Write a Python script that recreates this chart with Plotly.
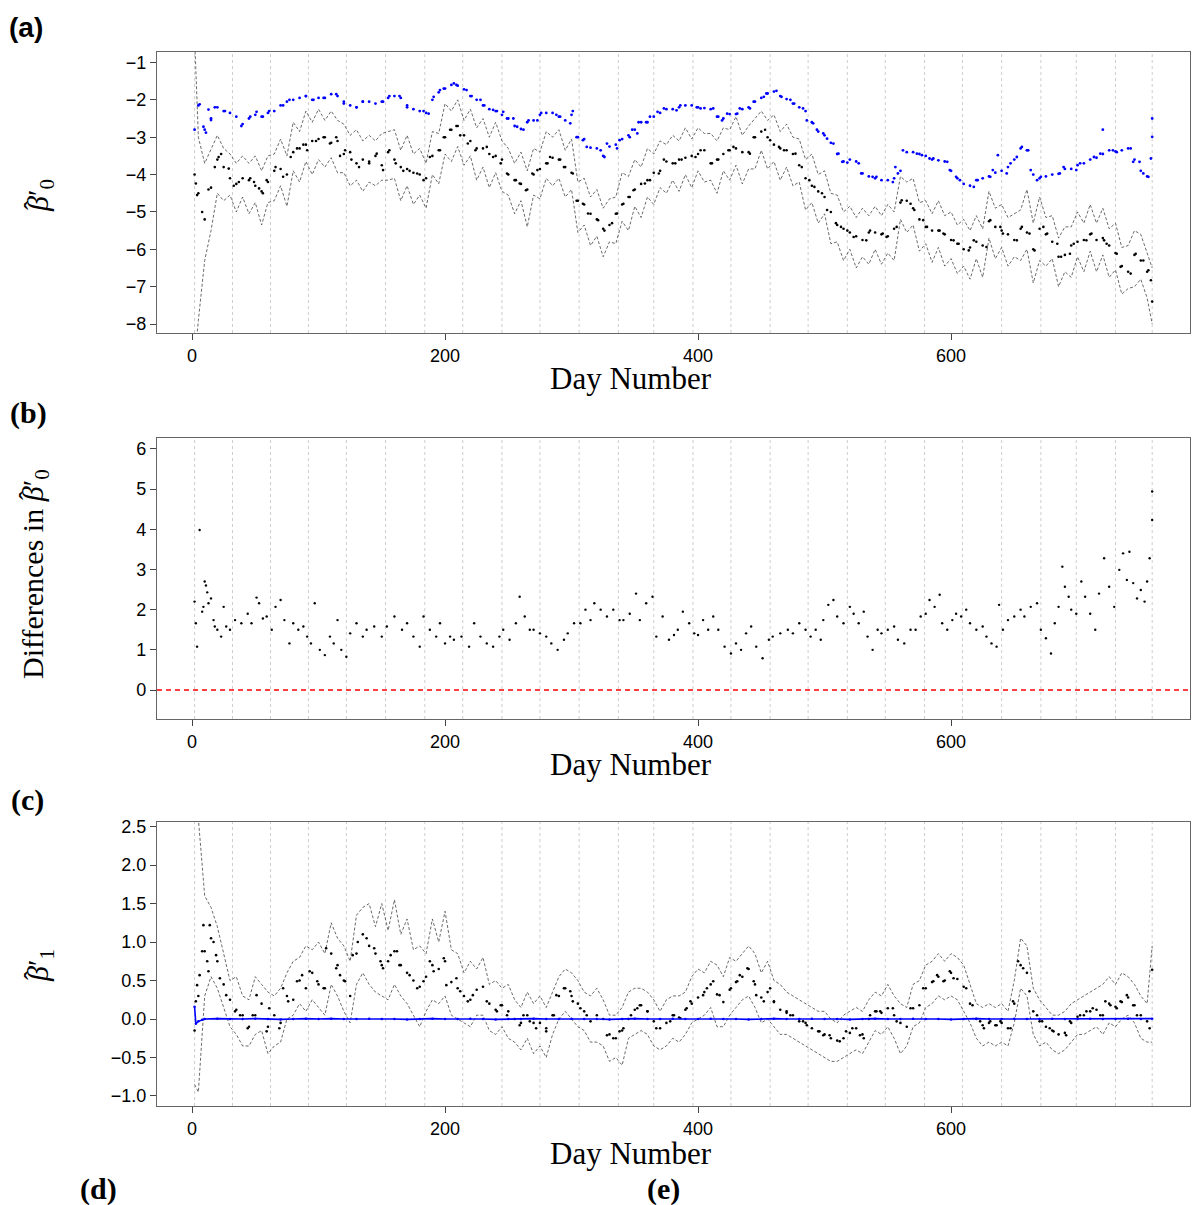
import plotly.graph_objects as go

W, H = 1192, 1205

# ---------------- data ----------------
DAYS = [2] + list(range(5, 760, 5)) + [759]

A_BLUE = [-2.8, -2.15, -2.8, -2.5, -2.2, -2.3, -2.35, -2.45, -2.65, -2.5, -2.4, -2.45, -2.35, -2.3, -2.15, -2.05,
          -2.0, -1.95, -1.9, -2.0, -1.95, -1.95, -1.85, -1.9, -2.05, -2.15, -2.2, -2.05, -2.05, -2.1, -2.05, -1.95,
          -1.9, -1.95, -2.15, -2.25, -2.3, -2.35, -2.0, -1.8, -1.7, -1.6, -1.62, -1.72, -1.9, -2.0, -2.15, -2.25,
          -2.3, -2.4, -2.5, -2.7, -2.78, -2.6, -2.55, -2.4, -2.35, -2.35, -2.45, -2.55, -2.4, -3.0, -3.05, -3.28,
          -3.3, -3.5, -3.25, -3.2, -3.05, -2.95, -2.8, -2.6, -2.6, -2.45, -2.35, -2.25, -2.25, -2.2, -2.15, -2.15,
          -2.2, -2.22, -2.25, -2.45, -2.5, -2.38, -2.38, -2.25, -2.2, -2.05, -1.95, -1.83, -1.78, -1.9, -1.98, -2.1,
          -2.2, -2.3, -2.6, -2.85, -2.95, -3.15, -3.45, -3.65, -3.6, -3.65, -3.97, -4.05, -4.1, -4.15, -4.15, -4.1,
          -3.9, -3.4, -3.4, -3.45, -3.5, -3.6, -3.62, -3.65, -3.9, -4.1, -4.25, -4.3, -4.15, -4.1, -4.05, -3.95,
          -3.9, -3.8, -3.6, -3.3, -3.35, -4.0, -4.1, -4.05, -4.0, -3.98, -3.85, -3.85, -3.75, -3.7, -3.6, -3.55,
          -3.45, -3.35, -3.38, -3.35, -3.3, -3.6, -3.9, -4.05, -2.5]

A_BLUE_EXTRA_DAYS = [6, 9, 11, 13, 15, 18, 26, 39, 46, 51, 56, 61, 72, 77, 90, 96, 104, 114, 120, 130, 135, 151,
                     156, 164, 170, 183, 187, 191, 196, 199, 207, 209, 217, 221, 228, 231, 241, 238, 246, 249, 254,
                     257, 262, 266, 273, 276, 288, 291, 299, 301, 304, 309, 312, 323, 326, 328, 336, 338, 346, 348,
                     352, 353, 359, 362, 368, 373, 383, 386, 399, 402, 412, 416, 419, 423, 431, 433, 441, 444, 452,
                     454, 462, 466, 473, 476, 483, 486, 491, 494, 499, 502, 507, 511, 514, 518, 527, 529, 538, 541,
                     554, 556, 558, 562, 573, 577, 583, 586, 597, 599, 604, 607, 618, 621, 631, 633, 637, 644, 647,
                     652, 656, 661, 663, 668, 671, 686, 689, 699, 702, 713, 718, 720, 728, 731, 742, 744, 749, 752,
                     756, 758, 759]
A_BLUE_EXTRA = [-2.12, -2.72, -2.88, -2.26, -2.54, -2.2, -2.3, -2.7, -2.45, -2.32, -2.45, -2.3, -2.15, -2.0, -1.9,
                -2.0, -1.95, -1.85, -2.1, -2.2, -2.05, -2.05, -1.9, -1.9, -2.2, -2.3, -2.37, -1.92, -1.74, -1.7,
                -1.56, -1.6, -1.74, -1.9, -2.0, -2.15, -2.3, -2.27, -2.32, -2.5, -2.5, -2.72, -2.8, -2.55, -2.55,
                -2.35, -2.4, -2.45, -2.63, -2.3, -3.0, -3.08, -3.26, -3.35, -3.53, -3.17, -3.3, -3.08, -3.0, -2.8,
                -2.9, -2.6, -2.6, -2.45, -2.32, -2.23, -2.28, -2.15, -2.2, -2.23, -2.23, -2.45, -2.55, -2.37, -2.37,
                -2.23, -2.23, -2.05, -1.92, -1.83, -1.76, -1.92, -2.0, -2.1, -2.23, -2.55, -2.63, -2.8, -2.9, -3.04,
                -3.17, -3.44, -3.66, -3.68, -3.7, -3.97, -4.06, -4.06, -4.2, -3.8, -3.97, -3.35, -3.44, -3.48, -3.57,
                -3.57, -3.66, -3.88, -4.06, -4.15, -4.33, -4.15, -4.06, -3.88, -3.48, -3.97, -3.7, -3.53, -3.26,
                -3.35, -3.88, -4.15, -4.06, -3.97, -3.8, -3.88, -3.7, -3.53, -3.44, -2.8, -3.35, -3.4, -3.3, -3.66,
                -3.66, -3.97, -4.06, -3.57, -2.99]

A_BLACK = [-4.0, -4.5, -5.2, -4.35, -3.6, -3.8, -4.1, -4.25, -4.1, -4.15, -4.3, -4.45, -4.2, -3.9, -3.85, -4.0,
           -3.4, -3.3, -3.2, -3.1, -3.05, -3.0, -3.15, -3.1, -3.45, -3.4, -3.7, -3.6, -3.65, -3.5, -3.75, -3.4,
           -3.6, -3.8, -3.85, -3.95, -4.0, -4.1, -3.5, -3.35, -3.0, -2.8, -2.7, -2.95, -3.1, -3.3, -3.3, -3.45,
           -3.5, -3.6, -4.0, -4.15, -4.25, -4.4, -4.0, -3.85, -3.7, -3.55, -3.6, -3.8, -3.95, -4.7, -4.8, -5.05,
           -5.2, -5.45, -5.35, -5.05, -4.8, -4.6, -4.4, -4.25, -4.15, -3.95, -3.9, -3.65, -3.7, -3.6, -3.55, -3.5,
           -3.45, -3.35, -3.7, -3.6, -3.45, -3.35, -3.3, -3.4, -3.4, -3.0, -2.85, -3.0, -3.2, -3.3, -3.35, -3.45,
           -3.75, -4.1, -4.3, -4.45, -4.6, -5.0, -5.35, -5.45, -5.55, -5.65, -5.75, -5.55, -5.55, -5.6, -5.65, -5.45,
           -4.75, -4.7, -4.9, -5.2, -5.4, -5.5, -5.5, -5.6, -5.75, -5.85, -6.0, -5.95, -5.8, -5.9, -5.25, -5.4,
           -5.5, -5.6, -5.75, -5.45, -5.55, -6.0, -5.45, -5.6, -5.8, -6.2, -6.15, -5.9, -5.8, -5.75, -5.6, -5.75,
           -5.7, -5.9, -6.1, -6.45, -6.6, -6.15, -6.3, -6.6, -7.4]

A_BLACK_EXTRA_DAYS = [3, 4, 8, 13, 18, 21, 23, 29, 33, 37, 46, 49, 53, 56, 59, 66, 72, 78, 83, 88, 91, 98, 104,
                      109, 114, 117, 121, 126, 132, 140, 146, 151, 156, 161, 167, 172, 178, 183, 188, 196, 199, 204,
                      209, 212, 218, 224, 233, 238, 244, 249, 256, 259, 264, 269, 273, 281, 283, 291, 294, 301, 304,
                      309, 313, 321, 326, 332, 336, 341, 346, 349, 358, 362, 369, 373, 382, 387, 398, 402, 411, 416,
                      424, 428, 441, 444, 453, 457, 464, 468, 477, 482, 488, 492, 498, 502, 509, 513, 518, 523, 533,
                      536, 546, 549, 557, 561, 568, 571, 578, 581, 591, 594, 602, 606, 614, 618, 628, 631, 639, 641,
                      652, 656, 662, 666, 673, 676, 684, 687, 694, 697, 707, 711, 721, 723, 731, 734, 742, 746, 752,
                      756, 758]
A_BLACK_EXTRA = [-4.24, -4.55, -5.0, -4.4, -3.8, -3.53, -3.45, -3.84, -4.3, -4.2, -4.1, -4.2, -4.37, -4.5, -4.15,
                 -3.8, -4.06, -3.53, -3.3, -3.2, -3.35, -3.1, -3.0, -3.17, -3.0, -3.5, -3.35, -3.6, -3.8, -3.7,
                 -3.44, -3.88, -3.35, -3.7, -3.9, -3.9, -3.97, -4.15, -3.53, -3.35, -3.0, -2.8, -2.7, -2.95, -3.17,
                 -3.35, -3.26, -3.53, -3.7, -3.97, -4.15, -4.24, -4.42, -3.97, -3.88, -3.7, -3.53, -3.6, -3.8,
                 -3.97, -4.7, -4.78, -5.04, -5.22, -5.5, -5.3, -5.04, -4.78, -4.6, -4.42, -4.24, -4.15, -3.97, -3.6,
                 -3.7, -3.6, -3.53, -3.35, -3.7, -3.6, -3.35, -3.26, -3.44, -3.0, -2.8, -3.08, -3.26, -3.35, -3.44,
                 -3.8, -4.15, -4.33, -4.5, -4.95, -5.3, -5.4, -5.5, -5.67, -5.76, -5.5, -5.58, -5.67, -5.4, -4.69,
                 -4.78, -4.95, -5.22, -5.4, -5.5, -5.58, -5.76, -5.85, -6.03, -5.76, -5.94, -5.22, -5.4, -5.58,
                 -5.76, -5.4, -5.58, -6.03, -5.4, -5.58, -5.85, -6.2, -6.12, -5.85, -5.76, -5.58, -5.76, -5.85,
                 -6.12, -6.47, -6.65, -6.12, -6.3, -6.56, -6.83]

A_UPPER = [-0.3, -3.0, -3.7, -3.3, -2.95, -3.3, -3.45, -3.7, -3.5, -3.7, -3.5, -3.9, -3.5, -3.45, -3.05, -3.5,
           -2.6, -2.85, -2.3, -2.6, -2.25, -2.55, -2.3, -2.55, -2.65, -2.95, -2.8, -3.1, -2.95, -3.1, -2.9, -2.85,
           -2.8, -3.35, -2.95, -3.45, -3.3, -3.7, -2.85, -2.9, -2.1, -2.3, -2.0, -2.55, -2.25, -2.75, -2.5, -3.0,
           -2.6, -3.1, -3.3, -3.7, -3.4, -3.9, -3.3, -3.4, -2.85, -3.0, -2.8, -3.35, -3.05, -4.2, -4.1, -4.6,
           -4.4, -4.9, -4.65, -4.6, -3.95, -4.05, -3.6, -3.8, -3.3, -3.45, -3.1, -3.2, -2.95, -3.1, -2.75, -3.05,
           -2.75, -2.9, -2.9, -3.1, -2.75, -2.8, -2.45, -2.95, -2.7, -2.5, -2.3, -2.55, -2.4, -2.85, -2.65, -3.0,
           -3.05, -3.6, -3.45, -4.0, -3.9, -4.5, -4.55, -5.0, -4.85, -5.15, -4.9, -5.1, -4.85, -5.1, -4.8, -5.0,
           -4.05, -4.2, -4.1, -4.75, -4.7, -5.05, -4.7, -5.1, -5.0, -5.35, -5.2, -5.5, -5.1, -5.45, -4.45, -4.9,
           -4.8, -5.15, -5.05, -4.95, -4.4, -5.3, -4.6, -5.15, -5.1, -5.7, -5.4, -5.4, -5.0, -5.3, -4.8, -5.3,
           -4.9, -5.45, -5.3, -5.95, -5.9, -5.5, -5.6, -6.1, -6.5]

A_LOWER = [-9.0, -7.9, -6.3, -5.5, -4.5, -4.7, -4.55, -5.0, -4.6, -5.05, -4.75, -5.35, -4.75, -4.7, -4.3, -4.85,
           -3.9, -4.2, -3.65, -4.0, -3.6, -3.8, -3.55, -3.95, -3.95, -4.3, -4.15, -4.45, -4.2, -4.3, -4.15, -4.15,
           -4.1, -4.7, -4.3, -4.8, -4.55, -4.9, -4.0, -4.25, -3.45, -3.65, -3.25, -3.75, -3.5, -4.15, -3.8, -4.35,
           -3.95, -4.45, -4.55, -5.05, -4.7, -5.4, -4.55, -4.65, -4.1, -4.3, -4.1, -4.6, -4.4, -5.55, -5.35, -5.9,
           -5.65, -6.2, -5.8, -5.85, -5.25, -5.5, -4.85, -5.15, -4.6, -4.8, -4.35, -4.5, -4.15, -4.45, -4.0, -4.35,
           -3.9, -4.2, -4.15, -4.5, -3.9, -4.15, -3.75, -4.25, -3.85, -3.85, -3.35, -3.85, -3.65, -4.15, -3.8, -4.3,
           -4.2, -4.95, -4.75, -5.3, -5.05, -5.85, -5.8, -6.3, -6.0, -6.5, -6.2, -6.4, -6.0, -6.4, -6.1, -6.3,
           -5.2, -5.55, -5.35, -6.05, -5.85, -6.35, -5.95, -6.45, -6.25, -6.65, -6.45, -6.8, -6.25, -6.75, -5.7, -6.25,
           -5.95, -6.45, -6.2, -6.3, -6.0, -6.9, -6.3, -6.45, -6.25, -7.0, -6.6, -6.75, -6.2, -6.6, -6.05, -6.6,
           -6.15, -6.75, -6.55, -7.2, -7.05, -7.0, -6.8, -7.3, -8.0]

B_DAYS = [2, 3, 4, 6, 8, 9, 10, 11, 12, 13, 15, 17, 18, 20, 23, 25, 27, 30, 34, 39, 44, 47, 51, 53, 56, 59, 63, 66,
          70, 73, 77, 80, 84, 88, 91, 94, 97, 101, 105, 109, 112, 115, 118, 122, 125, 130, 135, 138, 144, 150, 154,
          160, 166, 170, 175, 180, 183, 188, 193, 196, 200, 204, 207, 213, 219, 223, 228, 233, 238, 243, 246, 251,
          256, 259, 263, 267, 270, 275, 280, 284, 289, 294, 297, 302, 307, 311, 315, 318, 323, 328, 333, 338, 341,
          346, 351, 354, 359, 364, 367, 372, 377, 381, 384, 388, 393, 397, 400, 404, 408, 412, 416, 421, 426, 430,
          434, 438, 442, 446, 451, 456, 459, 465, 471, 475, 480, 485, 489, 493, 497, 499, 503, 507, 510, 515, 520,
          523, 527, 531, 534, 538, 542, 545, 550, 555, 558, 563, 568, 572, 576, 580, 583, 587, 591, 593, 597, 601,
          604, 608, 612, 615, 620, 625, 628, 632, 636, 638, 641, 645, 650, 655, 658, 663, 668, 671, 675, 679, 682,
          685, 688, 690, 693, 695, 699, 703, 706, 710, 714, 717, 721, 725, 729, 733, 736, 739, 741, 744, 747, 750,
          753, 755, 757, 759, 759]
B_DIFF = [2.2, 1.66, 1.08, 3.98, 1.95, 2.07, 2.7, 2.6, 2.43, 2.16, 2.28, 1.74, 1.58, 1.5, 1.33, 2.07, 1.58, 1.5,
          1.74, 1.66, 1.9, 1.66, 2.3, 2.16, 1.78, 1.83, 1.5, 2.07, 2.24, 1.74, 1.16, 1.66, 1.5, 1.58, 1.33, 1.16,
          2.16, 1.0, 0.87, 1.33, 1.16, 1.74, 1.0, 0.83, 1.41, 1.66, 1.33, 1.5, 1.58, 1.33, 1.58, 1.83, 1.5, 1.66,
          1.33, 1.08, 1.83, 1.5, 1.33, 1.66, 1.16, 1.33, 1.25, 1.33, 1.08, 1.66, 1.33, 1.16, 1.08, 1.33, 1.5, 1.25,
          1.66, 2.32, 1.83, 1.5, 1.5, 1.41, 1.33, 1.16, 1.0, 1.25, 1.41, 1.66, 1.66, 2.0, 1.74, 2.16, 2.0, 1.83, 2.0,
          1.74, 1.74, 1.9, 2.4, 1.74, 2.16, 2.32, 1.33, 1.83, 1.25, 1.37, 1.5, 1.95, 1.66, 1.41, 1.37, 1.74, 1.5,
          1.83, 1.5, 1.08, 0.91, 1.16, 1.0, 1.41, 1.58, 1.08, 0.79, 1.25, 1.33, 1.41, 1.5, 1.41, 1.66, 1.5, 1.33,
          1.5, 1.25, 1.74, 2.12, 2.24, 1.83, 1.66, 2.07, 1.9, 1.66, 1.95, 1.33, 1.0, 1.5, 1.41, 1.5, 1.58, 1.25,
          1.16, 1.5, 1.5, 1.83, 1.9, 2.24, 2.07, 2.37, 1.66, 1.5, 1.74, 1.9, 1.83, 2.0, 1.66, 1.5, 1.58, 1.33, 1.16,
          1.08, 2.12, 1.5, 1.74, 1.83, 2.0, 1.83, 2.07, 2.16, 1.5, 1.29, 0.91, 1.66, 2.07, 3.07, 2.57, 2.32, 2.0,
          1.9, 2.7, 2.32, 1.9, 1.5, 2.4, 3.28, 2.57, 2.07, 2.99, 3.4, 2.74, 3.44, 2.66, 2.28, 2.49, 2.2, 2.7, 3.28,
          4.23, 4.94]

C_BLACK = [-0.15, 0.3, 0.88, 1.05, 0.75, 0.45, 0.25, 0.12, 0.05, -0.1, 0.05, 0.2, -0.1, 0.05, -0.05, 0.3, 0.25,
           0.5, 0.4, 0.6, 0.45, 0.4, 0.85, 0.7, 0.5, 0.3, 0.85, 1.1, 0.95, 0.85, 0.7, 0.75, 0.88, 0.7, 0.6, 0.5,
           0.42, 0.55, 0.7, 0.65, 0.75, 0.48, 0.4, 0.3, 0.25, 0.38, 0.42, 0.2, 0.12, 0.18, 0.1, 0.0, -0.05, 0.05,
           -0.05, -0.05, -0.12, 0.05, 0.3, 0.4, 0.3, 0.2, 0.1, -0.03, 0.05, 0.0, -0.2, -0.25, -0.15, 0.0, 0.12,
           0.18, 0.1, -0.03, -0.12, -0.05, 0.05, 0.02, 0.12, 0.2, 0.28, 0.35, 0.45, 0.32, 0.22, 0.38, 0.48, 0.55,
           0.65, 0.45, 0.28, 0.35, 0.22, 0.12, 0.08, 0.05, -0.03, -0.05, -0.12, -0.16, -0.2, -0.25, -0.28, -0.25,
           -0.18, -0.12, -0.2, 0.0, 0.1, 0.08, 0.14, 0.05, -0.05, -0.1, 0.14, 0.18, 0.4, 0.48, 0.55, 0.5, 0.6, 0.52,
           0.42, 0.2, 0.0, -0.08, -0.05, -0.08, -0.05, -0.12, 0.2, 0.7, 0.6, 0.1, -0.03, -0.1, -0.15, -0.2, -0.18,
           -0.05, 0.03, 0.05, 0.1, 0.12, 0.05, 0.2, 0.16, 0.22, 0.28, 0.18, 0.05, -0.03, 0.64]

C_BLACK_EXTRA_DAYS = [3, 4, 6, 8, 9, 12, 13, 14, 17, 19, 22, 27, 34, 38, 44, 48, 51, 59, 61, 69, 72, 76, 83, 87,
                      93, 99, 104, 106, 114, 117, 121, 127, 131, 138, 144, 149, 151, 157, 162, 164, 172, 178, 183,
                      188, 191, 199, 201, 209, 212, 218, 222, 233, 241, 244, 249, 259, 262, 267, 272, 280, 286, 288,
                      294, 299, 301, 307, 312, 328, 333, 338, 341, 347, 352, 354, 360, 367, 378, 381, 386, 391, 394,
                      404, 407, 412, 417, 426, 431, 433, 439, 444, 446, 452, 457, 460, 470, 473, 483, 486, 496, 499,
                      504, 512, 517, 522, 528, 531, 536, 541, 544, 554, 557, 568, 578, 586, 589, 594, 599, 602, 612,
                      617, 623, 626, 631, 636, 639, 647, 649, 653, 657, 662, 668, 672, 678, 681, 691, 694, 702, 707,
                      712, 718, 722, 726, 731, 734, 739, 744, 747, 757]
C_BLACK_EXTRA = [0.23, 0.44, 0.57, 0.88, 1.22, 0.75, 0.62, 1.22, 1.0, 0.83, 0.53, 0.31, 0.1, 0.05, -0.12, 0.05,
                 0.31, -0.16, 0.14, -0.12, 0.4, 0.23, 0.49, 0.57, 0.62, 0.49, 0.4, 0.92, 0.66, 0.57, 0.49, 0.83,
                 1.0, 1.05, 0.92, 0.75, 0.66, 0.83, 0.88, 0.7, 0.57, 0.4, 0.49, 0.75, 0.62, 0.79, 0.44, 0.53, 0.36,
                 0.23, 0.31, 0.23, 0.1, 0.18, 0.05, -0.08, 0.05, -0.03, -0.12, -0.16, 0.05, 0.31, 0.4, 0.36, 0.23,
                 0.14, 0.05, -0.21, -0.25, -0.16, -0.12, 0.05, 0.14, 0.18, 0.1, -0.12, -0.03, 0.05, 0.01, 0.14,
                 0.23, 0.31, 0.4, 0.49, 0.31, 0.4, 0.49, 0.57, 0.66, 0.49, 0.31, 0.23, 0.4, 0.23, 0.1, 0.05, -0.03,
                 -0.08, -0.16, -0.21, -0.21, -0.29, -0.16, -0.12, -0.21, -0.25, 0.05, 0.1, 0.1, 0.14, -0.03, 0.14,
                 0.4, 0.49, 0.57, 0.49, 0.62, 0.53, 0.4, 0.18, -0.03, -0.12, -0.03, -0.08, -0.03, -0.12, 0.23, 0.75,
                 0.66, 0.36, 0.05, -0.03, -0.12, -0.16, -0.21, -0.03, 0.05, 0.1, 0.14, 0.05, 0.23, 0.18, 0.14, 0.23,
                 0.31, 0.18, 0.05, -0.12]

C_UPPER = [3.0, 2.6, 1.6, 1.45, 1.2, 0.85, 0.5, 0.55, 0.3, 0.25, 0.55, 0.45, 0.35, 0.3, 0.4, 0.6, 0.75, 0.8,
           0.95, 0.9, 1.0, 0.85, 1.25, 1.05, 0.95, 0.75, 1.35, 1.45, 1.5, 1.2, 1.5, 1.15, 1.55, 1.1, 1.3, 0.9, 0.95,
           0.85, 1.3, 1.0, 1.4, 0.9, 0.85, 0.6, 0.75, 0.65, 0.8, 0.45, 0.5, 0.4, 0.45, 0.25, 0.15, 0.35, 0.2, 0.3,
           0.15, 0.35, 0.55, 0.65, 0.6, 0.5, 0.35, 0.3, 0.4, 0.25, 0.05, 0.05, 0.15, 0.35, 0.4, 0.4, 0.35, 0.25,
           0.1, 0.25, 0.3, 0.3, 0.35, 0.55, 0.65, 0.6, 0.75, 0.7, 0.55, 0.8, 0.75, 0.85, 0.95, 0.85, 0.6, 0.75, 0.5,
           0.45, 0.35, 0.3, 0.25, 0.2, 0.15, 0.1, 0.1, 0.0, -0.05, 0.05, 0.1, 0.15, 0.1, 0.25, 0.35, 0.3, 0.45, 0.3,
           0.2, 0.15, 0.45, 0.5, 0.7, 0.75, 0.85, 0.75, 0.85, 0.8, 0.7, 0.45, 0.2, 0.15, 0.2, 0.15, 0.2, 0.1, 0.5,
           1.05, 0.95, 0.4, 0.25, 0.15, 0.05, 0.05, 0.1, 0.2, 0.25, 0.3, 0.35, 0.4, 0.45, 0.55, 0.45, 0.6, 0.55,
           0.45, 0.3, 0.2, 0.95]

C_LOWER = [-0.85, -0.95, 0.3, 0.55, 0.4, 0.15, -0.1, -0.2, -0.35, -0.35, -0.2, -0.15, -0.45, -0.35, -0.3, 0.0,
           0.05, 0.2, 0.1, 0.25, 0.15, 0.05, 0.45, 0.3, 0.1, -0.05, 0.45, 0.6, 0.45, 0.35, 0.3, 0.25, 0.45, 0.3,
           0.2, 0.05, -0.1, 0.1, 0.25, 0.2, 0.3, 0.05, 0.0, -0.05, -0.1, 0.05, 0.05, -0.15, -0.2, -0.1, -0.25, -0.3,
           -0.4, -0.25, -0.45, -0.35, -0.5, -0.2, 0.0, 0.1, 0.0, -0.1, -0.15, -0.3, -0.3, -0.35, -0.55, -0.5, -0.6,
           -0.25, -0.2, -0.15, -0.2, -0.35, -0.4, -0.35, -0.25, -0.3, -0.2, -0.05, 0.0, 0.05, 0.15, -0.1, -0.1, 0.05,
           0.15, 0.25, 0.3, 0.15, -0.05, 0.0, -0.1, -0.2, -0.2, -0.25, -0.3, -0.35, -0.4, -0.45, -0.5, -0.55, -0.55,
           -0.5, -0.45, -0.4, -0.45, -0.3, -0.15, -0.2, -0.1, -0.25, -0.45, -0.35, -0.1, -0.05, 0.15, 0.2, 0.3,
           0.25, 0.3, 0.25, 0.1, -0.05, -0.25, -0.35, -0.3, -0.35, -0.3, -0.35, -0.05, 0.4, 0.3, -0.2, -0.35, -0.3,
           -0.4, -0.45, -0.4, -0.3, -0.2, -0.2, -0.15, -0.1, -0.2, -0.05, -0.1, 0.0, 0.05, -0.05, -0.25, -0.3, -0.3]

C_BLUE_DAYS = [2, 3, 5, 8] + list(range(10, 760, 10)) + [759]
C_BLUE = [0.16, -0.06, -0.03, -0.01] + [0.0, 0.005, 0.0, 0.0, 0.005, 0.0, -0.005, 0.0, 0.005, 0.0,
                                        0.005, 0.0, 0.0, 0.005, 0.0, 0.0, -0.005, 0.0, 0.005, 0.0,
                                        0.0, 0.005, 0.0, -0.005, 0.0, 0.0, 0.005, 0.0, 0.0, 0.005,
                                        0.0, 0.0, -0.005, 0.0, 0.005, 0.0, 0.0, 0.005, 0.0, 0.0,
                                        0.005, 0.0, 0.0, -0.005, 0.0, 0.005, 0.0, 0.0, 0.005, 0.0,
                                        0.0, -0.005, 0.0, 0.005, 0.0, 0.0, 0.005, 0.0, 0.0, -0.005,
                                        0.0, 0.005, 0.0, 0.0, 0.005, 0.0, 0.0, 0.005, 0.0, 0.0,
                                        0.005, 0.0, 0.0, 0.005, 0.0] + [0.005]

MONTH_DAYS = [2, 32, 62, 92, 122, 153, 184, 214, 245, 275, 306, 337, 365, 396, 426, 457, 487, 518, 548, 579,
              609, 640, 671, 699, 730, 759]

X_TICKS = [0, 200, 400, 600]
A_TICKS = [-1, -2, -3, -4, -5, -6, -7, -8]
B_TICKS = [0, 1, 2, 3, 4, 5, 6]
C_TICKS = [2.5, 2.0, 1.5, 1.0, 0.5, 0.0, -0.5, -1.0]

# ---------------- figure ----------------
fig = go.Figure()

CI_LINE = dict(color="rgba(70,70,70,0.9)", width=0.9, dash="3px,2px")
BLACK_DOT = dict(color="black", size=2.6)
BLUE_DOT = dict(color="blue", size=2.8)


def px_x(p):
    return p / W


def px_y(p):
    return 1 - p / H


# panel a
fig.add_trace(go.Scatter(x=DAYS, y=A_UPPER, mode="lines", line=CI_LINE, xaxis="x", yaxis="y"))
fig.add_trace(go.Scatter(x=DAYS, y=A_LOWER, mode="lines", line=CI_LINE, xaxis="x", yaxis="y"))
fig.add_trace(go.Scatter(x=DAYS, y=A_BLACK, mode="markers", marker=BLACK_DOT, xaxis="x", yaxis="y"))
fig.add_trace(go.Scatter(x=A_BLACK_EXTRA_DAYS, y=A_BLACK_EXTRA, mode="markers", marker=BLACK_DOT, xaxis="x", yaxis="y"))
fig.add_trace(go.Scatter(x=DAYS, y=A_BLUE, mode="markers", marker=BLUE_DOT, xaxis="x", yaxis="y"))
fig.add_trace(go.Scatter(x=A_BLUE_EXTRA_DAYS, y=A_BLUE_EXTRA, mode="markers", marker=BLUE_DOT, xaxis="x", yaxis="y"))

# panel b
fig.add_trace(go.Scatter(x=B_DAYS, y=B_DIFF, mode="markers", marker=dict(color="black", size=2.4),
                         xaxis="x2", yaxis="y2"))

# panel c
fig.add_trace(go.Scatter(x=DAYS, y=C_UPPER, mode="lines", line=CI_LINE, xaxis="x3", yaxis="y3"))
fig.add_trace(go.Scatter(x=DAYS, y=C_LOWER, mode="lines", line=CI_LINE, xaxis="x3", yaxis="y3"))
fig.add_trace(go.Scatter(x=DAYS, y=C_BLACK, mode="markers", marker=BLACK_DOT, xaxis="x3", yaxis="y3"))
fig.add_trace(go.Scatter(x=C_BLACK_EXTRA_DAYS, y=C_BLACK_EXTRA, mode="markers", marker=BLACK_DOT,
                         xaxis="x3", yaxis="y3"))
fig.add_trace(go.Scatter(x=C_BLUE_DAYS, y=C_BLUE, mode="lines+markers", line=dict(color="blue", width=1.6),
                         marker=dict(color="blue", size=2.5), xaxis="x3", yaxis="y3"))

XR = [-27.7, 788.9]
x_dom = [157 / W, 1190 / W]
tickfont = dict(family="Liberation Sans, Arial, sans-serif", size=18, color="black")


def xaxis(anchor):
    return dict(domain=x_dom, range=XR, anchor=anchor, tickvals=X_TICKS, ticks="outside", ticklen=6,
                tickcolor="#444", showline=True, linecolor="#666", linewidth=1.2, mirror=True,
                showgrid=False, zeroline=False, tickfont=tickfont)


def yaxis(anchor, dom, rng, tv, fmt=None):
    d = dict(domain=dom, range=rng, anchor=anchor, tickvals=tv, ticks="outside", ticklen=6, tickcolor="#444",
             showline=True, linecolor="#666", linewidth=1.2, mirror=True, showgrid=False, zeroline=False,
             tickfont=tickfont)
    if fmt:
        d["tickformat"] = fmt
    return d


fig.update_layout(
    width=W, height=H, margin=dict(l=0, r=0, t=0, b=0, autoexpand=False),
    paper_bgcolor="white", plot_bgcolor="white", showlegend=False,
    xaxis=xaxis("y"),
    yaxis=yaxis("x", [px_y(333), px_y(52)], [-8.24, -0.72], A_TICKS),
    xaxis2=xaxis("y2"),
    yaxis2=yaxis("x2", [px_y(719), px_y(438)], [-0.72, 6.27], B_TICKS),
    xaxis3=xaxis("y3"),
    yaxis3=yaxis("x3", [px_y(1106), px_y(822)], [-1.13, 2.56], C_TICKS, ".1f"),
)

shapes = []
for xref, yref in [("x", "y domain"), ("x2", "y2 domain"), ("x3", "y3 domain")]:
    for d in MONTH_DAYS:
        shapes.append(dict(type="line", xref=xref, yref=yref, x0=d, x1=d, y0=0, y1=1, layer="below",
                           line=dict(color="#cdcdcd", width=1, dash="3px,3px")))
shapes.append(dict(type="line", xref="x2 domain", yref="y2", x0=0, x1=1, y0=0, y1=0,
                   line=dict(color="red", width=1.5, dash="5px,4px")))
fig.update_layout(shapes=shapes)

serif = "Liberation Serif, Times New Roman, serif"
ann = []


def add_text(text, xc, yc, size, angle=0, family=serif):
    ann.append(dict(text=text, x=px_x(xc), y=px_y(yc), xref="paper", yref="paper", showarrow=False,
                    textangle=angle, xanchor="center", yanchor="middle",
                    font=dict(family=family, size=size, color="black")))


for yc in [378, 764, 1153]:
    add_text("Day Number", 631, yc, 31)

# y-axis titles (beta with hat drawn as a separate circumflex character)
add_text("<i>β</i>′<sub>0</sub>", 40, 196, 30, -90)
add_text("ˆ", 33, 205, 28, -90)
add_text("Differences in <i>β</i>′<sub>0</sub>", 35, 574, 30, -90)
add_text("ˆ", 28, 495, 28, -90)
add_text("<i>β</i>′<sub>1</sub>", 40, 966, 30, -90)
add_text("ˆ", 33, 975, 28, -90)

add_text("<b>(a)</b>", 26, 27, 28, 0, "Liberation Sans, Arial, sans-serif")
for lab, xc, yc in [("(b)", 28, 413), ("(c)", 27, 800), ("(d)", 98, 1189), ("(e)", 663, 1189)]:
    add_text("<b>%s</b>" % lab, xc, yc, 30)
fig.update_layout(annotations=ann)

fig.write_html("out.html", config={"displayModeBar": False},
               post_script="document.body.style.margin='0px';document.body.style.overflow='hidden';")
